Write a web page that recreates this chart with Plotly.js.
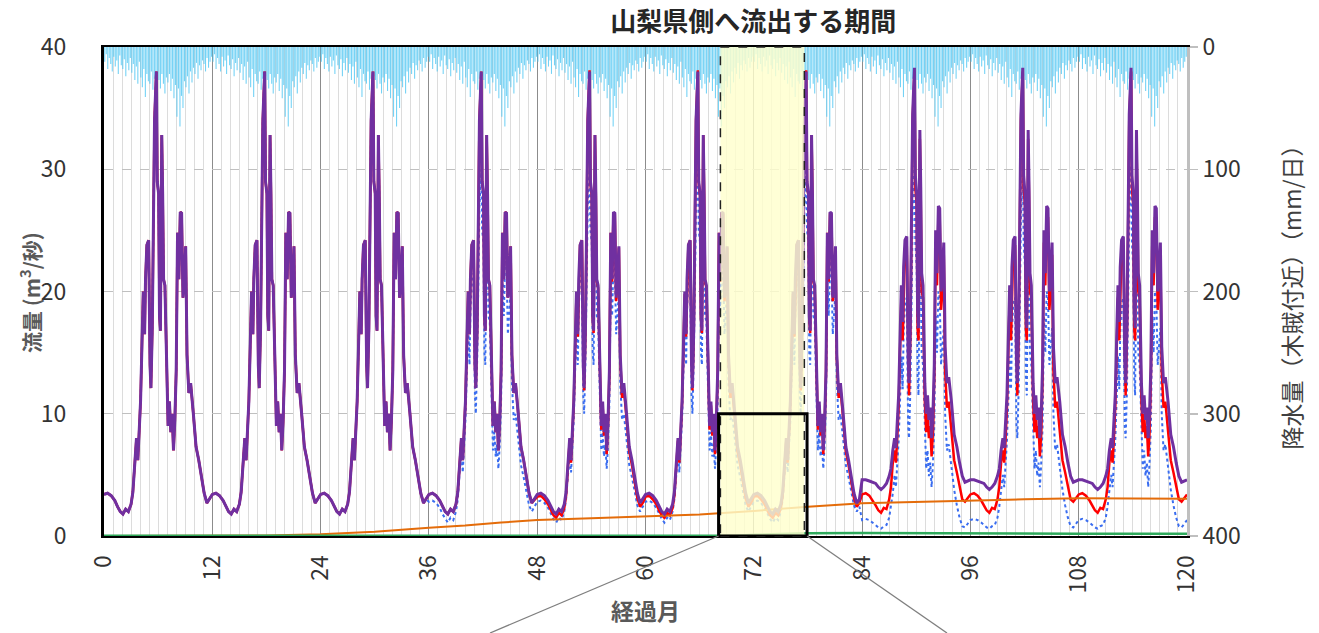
<!DOCTYPE html>
<html>
<head>
<meta charset="utf-8">
<script src="https://cdn.plot.ly/plotly-3.0.1.min.js"></script>
<style>
html,body{margin:0;padding:0;background:#fff;}
#chart{width:1319px;height:633px;}
</style>
</head>
<body>
<div id="chart"></div>
<script>
// ---- data ----
// month offsets within a year used for the flow hydrographs
const monthOffsets = [0,0.4,0.8,1.2,1.5,1.8,2.1,2.4,2.7,3.0,
  3.2,3.4,3.6,3.75,3.9,4.05,4.2,4.35,4.5,4.6,
  4.75,4.95,5.1,5.2,5.35,5.5,5.6,5.8,5.9,6.05,
  6.15,6.25,6.4,6.5,6.6,6.75,6.95,7.1,7.25,7.4,
  7.55,7.7,7.85,8.0,8.15,8.3,8.45,8.6,8.75,8.9,
  9.05,9.2,9.4,9.6,9.9,10.2,10.5,10.8,11.1,11.4,
  11.7];

// purple flow, early years (0-83 months)
const purpleEarly = [3.4,3.5,3.3,2.9,2.4,2.0,1.8,2.2,2.0,2.6,
  3.6,6.0,8.0,6.2,8.4,11,15.5,20,16.5,21,
  23.8,24.2,14,12.1,17,26,34,38,29,28,
  18,16.8,32.8,28,21,20.5,12,9,11,8.5,
  10,7.0,9.5,13.5,24.8,21,26.5,26.4,19.5,21,
  23.7,14.8,11.7,12.5,10,7.3,6.2,4.8,3.5,2.7,
  3.0];
// purple flow, late years (84-120 months)
const purpleLate = [4.6,4.6,4.5,4.4,4.3,4.0,3.8,4.0,4.3,4.9,
  5.5,7.0,8.0,7.2,9.0,11.5,16,20.5,17.5,22,
  24.2,24.5,14.5,12.5,17.5,26.5,34.5,38.3,29.5,28,
  18.5,17,33.2,28.5,21.5,20.5,12.5,10,11.5,9.5,
  10.5,8.0,10,14,25,21.5,27,26.8,20,21.5,
  24,15.5,12.5,13,11,8.3,7.3,6.0,4.9,4.4,
  4.5];
// red flow, middle years
const redMid = [3.2,3.3,3.0,2.6,2.1,1.7,1.5,1.9,1.7,2.3,
  3.3,5.8,7.8,6.0,8.2,10.8,15.3,19.8,16.3,20.8,
  23.8,24.2,13.8,11.9,16.8,26,34,38.1,28.8,27.8,
  17.8,16.6,32.8,27.8,20.8,20.3,11.8,8.7,10.7,8.2,
  9.7,6.7,9.2,13.2,24.8,20.8,26.4,26.3,19.2,20.8,
  23.6,14.5,11.3,12.1,9.6,6.9,5.8,4.4,3.1,2.4,
  2.7];
// red flow, late years
const redLate = [3.4,3.5,3.3,2.9,2.5,2.1,1.9,2.3,2.2,3.0,
  4.0,6.0,7.0,6.0,8.0,10.5,15,19.5,16,20.5,
  23.5,23.8,13.5,11.5,16.5,26,34,38,28.5,27,
  17,16,32.5,27.5,20,19.5,11,8.5,10,8.0,
  9,6.5,8.5,13,24,20.5,26,26,18.5,20,
  23,13.5,10.5,11,8.5,6.2,5.2,4.0,3.0,2.8,
  3.1];
// blue dotted flow, middle years
const blueMid = [2.8,2.9,2.7,2.3,1.8,1.4,1.1,1.5,1.3,2.0,
  3.0,5.2,6.8,5.2,7.2,9.5,13.5,17.5,14,18.5,
  21,21.5,11.5,10,14.5,22,27,30,25,24,
  15,14,27,24,18,17.5,10,7.0,8.5,6.5,
  7.5,5.5,7.5,11,21,18,22.5,22,16.5,18,
  20,12.5,9.5,10,8,5.8,4.8,3.6,2.5,2.0,
  2.4];
// blue dotted flow, late years
const blueLate = [1.3,1.4,1.3,1.1,0.9,0.7,0.6,0.8,0.9,1.5,
  2.4,3.5,5.0,4.0,6.0,7.8,11,14.7,12,16.6,
  19,19.5,9,8,12,20,26,30.3,24,22,
  13,11.5,25,21,15,14,8,5.5,7,4.9,
  6,4.0,6,9,18,15,20,19.5,14,15.5,
  17,10,7,7.5,5.5,3.8,2.5,1.5,0.8,0.7,
  1.0];

// which annual hydrograph each of the 10 years uses
const purpleYears = ['E','E','E','E','E','E','E','L','L','L'];
const redYears    = ['E','E','E','E','M','M','M','L','L','L'];
const blueYears   = ['E','E','E','M','M','M','M','L','L','L'];

// orange line
const orangeMonths = [0,12,18,24,30,36,40,44,48,54,60,66,72,78,84,90,96,102,108,114,120];
const orangeValues = [0,0,0.05,0.15,0.35,0.68,0.85,1.1,1.3,1.45,1.58,1.75,2.05,2.4,2.67,2.8,2.9,3.0,3.08,3.08,3.05];

// green line
const greenMonths = [0,70,72,78,84,96,108,120];
const greenValues = [0.02,0.03,0.1,0.22,0.25,0.2,0.18,0.18];

// precipitation, annual pattern (mm/day), 6 values per month
const precipAnnual = [12,6,18,9,14,20,
  8,16,11,22,7,15,
  18,10,24,13,19,9,
  21,14,27,16,30,12,
  25,33,18,41,22,28,
  30,20,35,26,32,24,
  27,34,22,30,38,25,
  29,22,36,26,42,31,
  57,34,65,40,50,28,
  33,24,38,20,29,17,
  22,13,26,15,19,11,
  14,20,9,17,12,8];

const xTicks = [0,12,24,36,48,60,72,84,96,108,120];

// ---- build series ----
function buildSeries(patterns, keys){
  const x=[], y=[];
  for(let yr=0; yr<keys.length; yr++){
    const p = patterns[keys[yr]];
    for(let i=0;i<monthOffsets.length;i++){ x.push(12*yr+monthOffsets[i]); y.push(p[i]); }
  }
  x.push(12*keys.length); y.push(patterns[keys[keys.length-1]][0]);
  return {x,y};
}
const purple = buildSeries({E:purpleEarly, L:purpleLate}, purpleYears);
const red = buildSeries({E:purpleEarly, M:redMid, L:redLate}, redYears);
const blue = buildSeries({E:purpleEarly, M:blueMid, L:blueLate}, blueYears);

const px=[], py=[];
for(let yr=0; yr<10; yr++){
  for(let i=0;i<precipAnnual.length;i++){ px.push(12*yr+(i+0.5)/6); py.push(precipAnnual[i]); }
}

const FONT = '"Noto Sans CJK JP", "Noto Sans", sans-serif';

const traces = [
  {type:'bar', x:px, y:py, xaxis:'x', yaxis:'y', width:0.12,
   marker:{color:'rgba(70,195,242,0.75)', line:{width:0}}, hoverinfo:'skip', showlegend:false},
  {type:'scatter', mode:'lines', x:blue.x, y:blue.y, xaxis:'x', yaxis:'y2',
   line:{color:'#3a6df0', width:2, dash:'dot'}, showlegend:false},
  {type:'scatter', mode:'lines', x:red.x, y:red.y, xaxis:'x', yaxis:'y2',
   line:{color:'#ff0000', width:2.5}, showlegend:false},
  {type:'scatter', mode:'lines', x:orangeMonths, y:orangeValues, xaxis:'x', yaxis:'y2',
   line:{color:'#e46c0a', width:2}, showlegend:false},
  {type:'scatter', mode:'lines', x:greenMonths, y:greenValues, xaxis:'x', yaxis:'y2',
   line:{color:'#2eaa5c', width:2.5}, showlegend:false},
  {type:'scatter', mode:'lines', x:purple.x, y:purple.y, xaxis:'x', yaxis:'y2',
   line:{color:'#7030a0', width:3}, showlegend:false}
];

const layout = {
  width:1319, height:633,
  margin:{l:104, r:132, t:47, b:97},
  paper_bgcolor:'#ffffff', plot_bgcolor:'#ffffff',
  font:{family:FONT, color:'#333333'},
  showlegend:false,
  title:{text:'<b>山梨県側へ流出する期間</b>', font:{family:FONT, size:26, color:'#262626'},
         x:0.571, xanchor:'center', xref:'container', y:0.966, yref:'container', yanchor:'middle'},
  xaxis:{range:[0,120], tickvals:xTicks, ticktext:xTicks.map(String), tickangle:-90,
         tickfont:{size:23, color:'#333333'}, ticks:'', ticklabelstandoff:8,
         showgrid:true, gridcolor:'#8c8c8c', gridwidth:1,
         minor:{dtick:1, tick0:0, showgrid:true, gridcolor:'#dcdcdc', gridwidth:1},
         showline:true, linecolor:'#000000', linewidth:2, mirror:true, zeroline:false,
         title:{text:'<b>経過月</b>', font:{size:23, color:'#595959'}, standoff:11},
         automargin:false},
  yaxis:{range:[400,0], tickvals:[0,100,200,300,400], side:'right',
         tickfont:{size:23, color:'#333333'}, ticks:'outside', ticklen:8, tickcolor:'#bfbfbf', tickwidth:1.5,
         showgrid:true, gridcolor:'#c0c0c0', griddash:'dash', gridwidth:1,
         showline:true, linecolor:'#bfbfbf', linewidth:3, zeroline:false,
         title:{text:'降水量（木賊付近）（mm/日）', font:{size:23, color:'#404040'}, standoff:46},
         automargin:false},
  yaxis2:{range:[0,40], tickvals:[0,10,20,30,40], overlaying:'y', side:'left',
         tickfont:{size:23, color:'#333333'}, ticks:'', ticklabelstandoff:30,
         showgrid:false, showline:true, linecolor:'#000000', linewidth:3, zeroline:false,
         automargin:false},
  annotations:[
    {text:'<b>流量 (m<sup>3</sup>/秒)</b>', xref:'paper', yref:'paper', x:-0.0683, y:0.497,
     xanchor:'center', yanchor:'middle', textangle:-90, showarrow:false,
     font:{family:FONT, size:21, color:'#595959'}}
  ],
  shapes:[
    {type:'rect', xref:'x', yref:'paper', x0:68.3, x1:77.6, y0:0, y1:1, layer:'above',
     fillcolor:'rgba(255,255,205,0.82)', line:{color:'#222222', width:1.5, dash:'dash'}},
    {type:'rect', xref:'x', yref:'y2', x0:68.1, x1:77.9, y0:0, y1:10, layer:'above',
     fillcolor:'rgba(0,0,0,0)', line:{color:'#000000', width:3}},
    {type:'line', xref:'paper', yref:'paper', x0:68.1/120, y0:0, x1:0.3564, y1:-0.1984, layer:'above',
     line:{color:'#7f7f7f', width:1.3}},
    {type:'line', xref:'paper', yref:'paper', x0:77.9/120, y0:0, x1:0.7784, y1:-0.1984, layer:'above',
     line:{color:'#7f7f7f', width:1.3}}
  ]
};

Plotly.newPlot('chart', traces, layout, {displayModeBar:false, staticPlot:true});
</script>
</body>
</html>
